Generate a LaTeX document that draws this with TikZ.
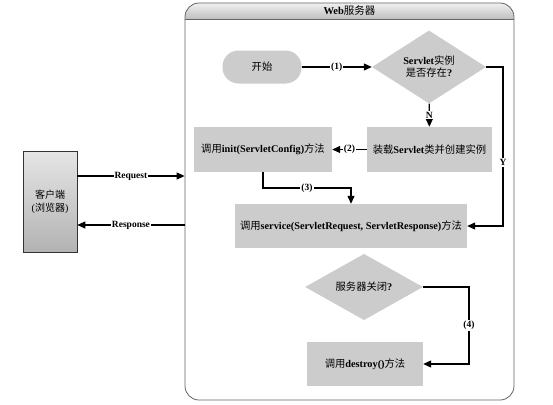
\documentclass[tikz,border=0pt]{standalone}
\usepackage{fontspec}
\setmainfont{Liberation Serif}
\newfontfamily\cjk{Noto Sans CJK SC}[BoldFont={Noto Sans CJK SC}]
\usetikzlibrary{shapes.geometric,arrows.meta}
\definecolor{nodegray}{RGB}{204,204,204}
\definecolor{framegray}{RGB}{100,100,100}
\tikzset{
  proc/.style={fill=nodegray, inner sep=2pt, font=\bfseries\fontsize{10.3}{12}\selectfont, align=center},
  dec/.style={proc, diamond, inner sep=0pt},
  arr/.style={draw=black, line width=1.1pt, -{Triangle[length=8pt,width=7pt]}},
  lbl/.style={fill=white, inner sep=1pt, font=\bfseries\fontsize{9.5}{11}\selectfont},
}
\begin{document}
\begin{tikzpicture}[x=1pt,y=-1pt]
\useasboundingbox (0,0) rectangle (553,404);
% server frame
\begin{scope}
\clip[rounded corners=14pt] (185,3) rectangle (514,400);
\shade[top color=gray!12, bottom color=gray!50] (185,3) rectangle (514,19);
\end{scope}
\node[draw=framegray, line width=0.8pt, rounded corners=14pt, minimum width=329pt, minimum height=397pt, inner sep=0pt] (server) at (349.5,201.5) {};
\draw[framegray, line width=0.8pt] (server.west |- 0,19) -- (server.east |- 0,19);
\node[font=\bfseries\fontsize{10.5}{12}\selectfont] (title) at (349.5,11) {Web{\cjk 服务器}};
% client
\node[draw=black!80, line width=0.6pt, top color=gray!20, bottom color=gray!60, minimum width=54pt, minimum height=101pt, inner sep=0pt, align=center, font=\fontsize{10}{13}\selectfont] (client) at (50,201.5) {{\cjk 客户端}\\({\cjk 浏览器})};
% flow nodes
\node[proc, rounded corners=16pt, minimum width=79pt, minimum height=33pt] (start) at (262,67) {\cjk 开始};
\node[dec, minimum width=114pt, minimum height=48pt] (d1) at (429,67) {Servlet{\cjk 实例}\\{\cjk 是否存在}?};
\node[proc, minimum width=125pt, minimum height=45pt] (load) at (429.5,149.5) {{\cjk 装载}Servlet{\cjk 类并创建实例}};
\node[proc, minimum width=138pt, minimum height=45pt] (init) at (263,149.5) {{\cjk 调用}init(ServletConfig){\cjk 方法}};
\node[proc, minimum width=232pt, minimum height=44pt] (service) at (351,226) {{\cjk 调用}service(ServletRequest, ServletResponse){\cjk 方法}};
\node[dec, minimum width=118pt, minimum height=50pt] (d2) at (364,287) {{\cjk 服务器关闭}?};
\node[proc, minimum width=116pt, minimum height=44pt] (destroy) at (365,364) {{\cjk 调用}destroy(){\cjk 方法}};
% connectors
\draw[arr] (start) -- node[lbl]{(1)} (d1);
\draw[arr] (d1) -- node[lbl]{N} (load);
\draw[arr] (load) -- node[lbl]{(2)} (init);
\coordinate (c3) at (263,188);
\draw[arr] (init.south) -- (c3) -| node[pos=0.25,lbl]{(3)} (service.north);
\coordinate (cy) at (503,67);
\draw[arr] (d1.east) -- (cy) |- node[pos=0.3,lbl]{Y} (service.east);
\coordinate (c4) at (469,287);
\draw[arr] (d2.east) -- (c4) |- node[pos=0.25,lbl]{(4)} (destroy.east);
\draw[arr] (client.east |- 0,176) -- node[lbl]{Request} (server.west |- 0,176);
\draw[arr] (server.west |- 0,225) -- node[lbl]{Response} (client.east |- 0,225);
\end{tikzpicture}
\end{document}
